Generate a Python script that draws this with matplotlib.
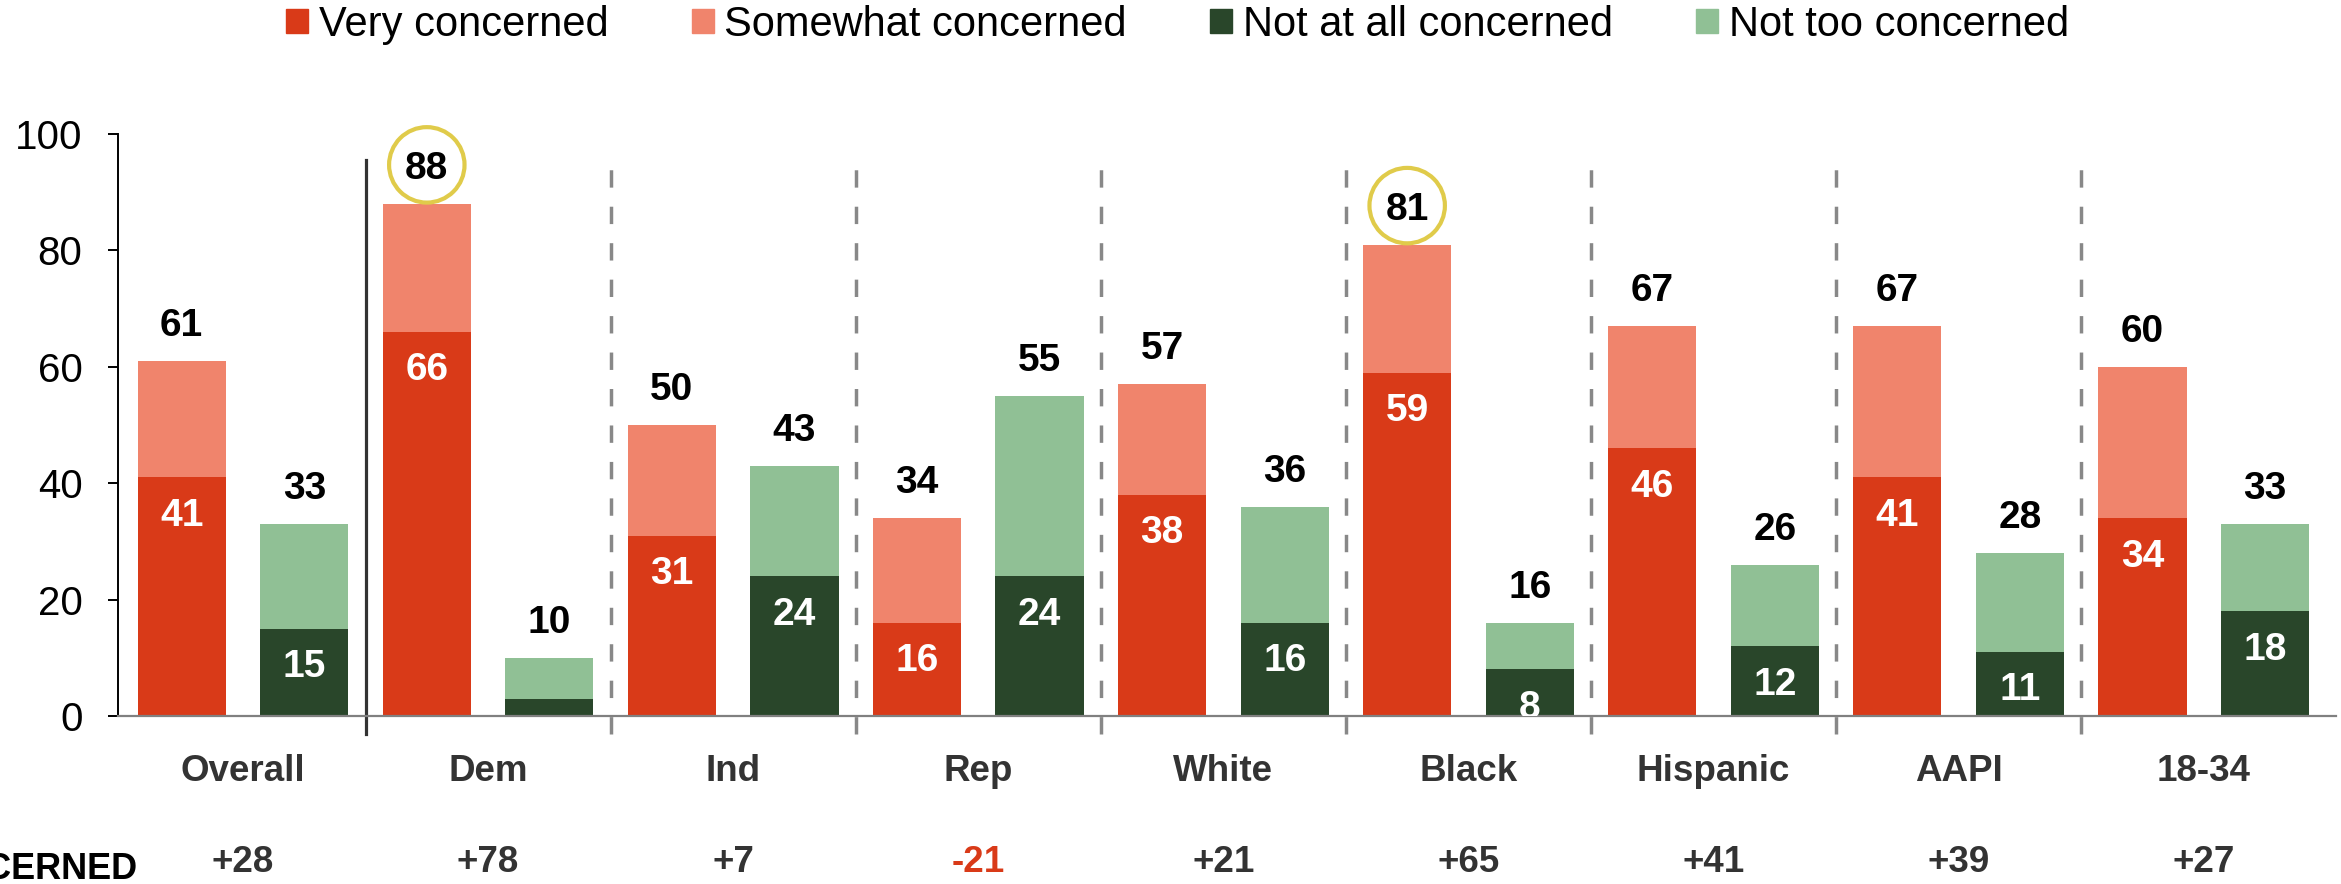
import matplotlib.pyplot as plt
from matplotlib.patches import Patch

# dados
grupos = ["Overall", "Dem", "Ind", "Rep", "White", "Black", "Hispanic", "AAPI", "18-34"]
muito = [41, 66, 31, 16, 38, 59, 46, 41, 34]
total_preocupado = [61, 88, 50, 34, 57, 81, 67, 67, 60]
nada = [15, 3, 24, 24, 16, 8, 12, 11, 18]
total_nao_preocupado = [33, 10, 43, 55, 36, 16, 26, 28, 33]
saldo = ["+28", "+78", "+7", "-21", "+21", "+65", "+41", "+39", "+27"]
destaques = ["Dem", "Black"]

COR_MUITO = "#D93A18"
COR_ALGO = "#F0846C"
COR_NADA = "#29462A"
COR_POUCO = "#90C095"
COR_TEXTO = "#333333"

plt.rcParams["font.family"] = ["Liberation Sans", "DejaVu Sans"]


def desenhar():
    fig = plt.figure(figsize=(23.41, 8.84), dpi=100)
    ax = fig.add_axes([0.0504, 0.190, 0.9475, 0.6584])

    x = list(range(len(grupos)))
    xa = [i - 0.25 for i in x]
    xb = [i + 0.25 for i in x]
    largura = 0.36

    algo = [t - m for t, m in zip(total_preocupado, muito)]
    pouco = [t - n for t, n in zip(total_nao_preocupado, nada)]

    ax.bar(xa, muito, largura, color=COR_MUITO)
    ax.bar(xa, algo, largura, bottom=muito, color=COR_ALGO)
    ax.bar(xb, nada, largura, color=COR_NADA)
    ax.bar(xb, pouco, largura, bottom=nada, color=COR_POUCO)

    # rotulos dos totais e dos segmentos de baixo
    for i in x:
        ax.text(xa[i], total_preocupado[i] + 6.0, str(total_preocupado[i]),
                ha="center", va="center", fontsize=28, fontweight="bold")
        ax.text(xb[i], total_nao_preocupado[i] + 6.0, str(total_nao_preocupado[i]),
                ha="center", va="center", fontsize=28, fontweight="bold")
        ax.text(xa[i], muito[i] - 6.6, str(muito[i]), ha="center", va="center",
                fontsize=28, fontweight="bold", color="white", clip_on=True)
        if nada[i] >= 5:
            ax.text(xb[i], nada[i] - 6.6, str(nada[i]), ha="center", va="center",
                    fontsize=28, fontweight="bold", color="white", clip_on=True)

    # circulos nos destaques
    for g in destaques:
        i = grupos.index(g)
        ax.scatter([xa[i]], [total_preocupado[i] + 6.7], s=2950, marker="o",
                   facecolor="none", edgecolor="#E0CB4A", linewidth=3, zorder=5,
                   clip_on=False)

    # separadores entre grupos
    for i in x[:-1]:
        if i == 0:
            ax.plot([i + 0.5, i + 0.5], [-3, 95.6], color="#333333", lw=2.3,
                    clip_on=False)
        else:
            ax.plot([i + 0.5, i + 0.5], [-3, 95.6], color="#888888", lw=2.5,
                    dashes=(5, 5.5), clip_on=False)

    # nomes dos grupos e saldo
    tr = ax.get_xaxis_transform()
    for i in x:
        ax.text(i, -0.0945, grupos[i], transform=tr, ha="center", va="center",
                fontsize=26.5, fontweight="bold", color=COR_TEXTO)
        cor = COR_MUITO if saldo[i].startswith("-") else COR_TEXTO
        ax.text(i, -0.251, saldo[i], transform=tr, ha="center", va="center",
                fontsize=26.5, fontweight="bold", color=cor)
    fig.text(0.0585, 0.016, "NET CONCERNED", ha="right", va="center",
             fontsize=26, fontweight="bold", color="black")

    ax.set_xlim(-0.51, 8.54)
    ax.set_ylim(0, 100)
    ax.set_yticks([0, 20, 40, 60, 80, 100])
    ax.set_xticks([])
    ax.tick_params(axis="y", labelsize=29, length=7.5, width=1.4, pad=18)
    ax.spines["top"].set_visible(False)
    ax.spines["right"].set_visible(False)
    ax.spines["left"].set_linewidth(1.4)
    ax.spines["bottom"].set_color("#808080")
    ax.spines["bottom"].set_linewidth(1.6)

    handles = [Patch(color=COR_MUITO, label="Very concerned"),
               Patch(color=COR_ALGO, label="Somewhat concerned"),
               Patch(color=COR_NADA, label="Not at all concerned"),
               Patch(color=COR_POUCO, label="Not too concerned")]
    fig.legend(handles=handles, loc="center", bbox_to_anchor=(0.503, 0.972),
               ncol=4, frameon=False, fontsize=30, handlelength=0.53,
               handleheight=0.53, handletextpad=0.25, columnspacing=2.0)

    fig.savefig("out.png", dpi=100)


if __name__ == "__main__":
    desenhar()
